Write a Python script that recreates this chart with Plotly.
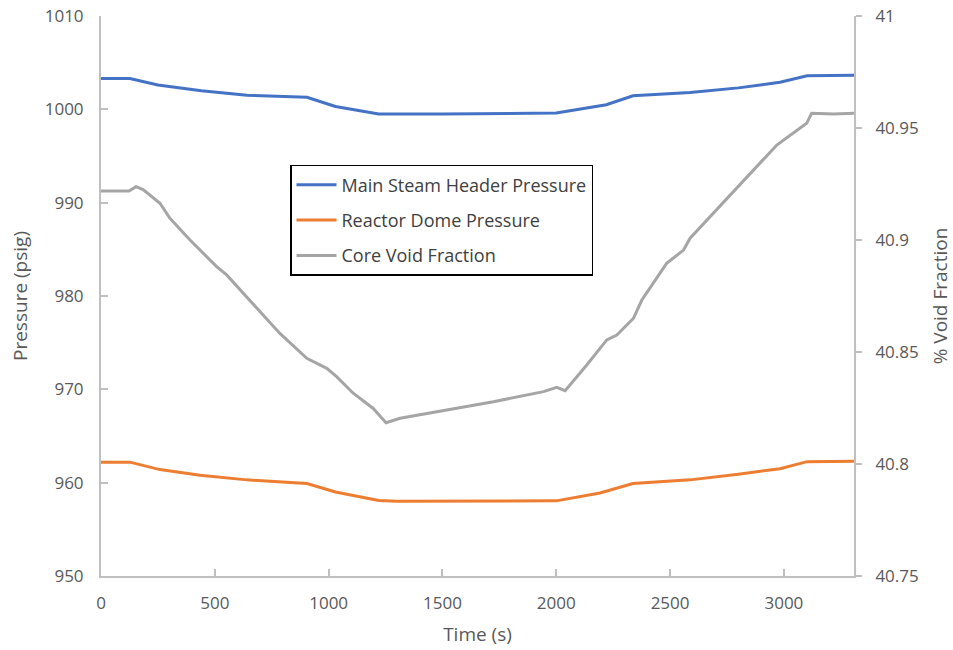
import plotly.graph_objects as go

# Time (s) and values
t_main = [0, 127, 250, 441, 641, 905, 1030, 1220, 1500, 1800, 2000, 2220, 2337, 2588, 2800, 2983, 3102, 3308]
p_main = [1003.3, 1003.3, 1002.6, 1002.0, 1001.5, 1001.3, 1000.3, 999.5, 999.5, 999.55, 999.6, 1000.5, 1001.45, 1001.8, 1002.3, 1002.9, 1003.6, 1003.65]

t_dome = [0, 127, 259, 435, 641, 905, 1030, 1220, 1300, 1600, 1800, 2000, 2192, 2337, 2588, 2800, 2983, 3102, 3308]
p_dome = [962.2, 962.2, 961.4, 960.8, 960.3, 959.9, 959.0, 958.1, 958.0, 958.0, 958.05, 958.05, 958.9, 959.9, 960.3, 960.9, 961.5, 962.25, 962.3]

t_void = [0, 123, 154, 185, 259, 303, 391, 508, 552, 640, 786, 904, 992, 1035, 1108, 1196, 1230, 1252, 1314,
          1519, 1724, 1944, 2002, 2039, 2134, 2222, 2266, 2339, 2376, 2485, 2559, 2588, 2676, 2822, 2969,
          3100, 3122, 3218, 3308]
v_void = [40.9219, 40.9219, 40.9238, 40.9225, 40.9164, 40.9097, 40.9000, 40.8881, 40.8844, 40.8747, 40.8583,
          40.8472, 40.8427, 40.8390, 40.8316, 40.8248, 40.8210, 40.8184, 40.8204,
          40.8241, 40.8278, 40.8323, 40.8342, 40.8327, 40.8442, 40.8554, 40.8576, 40.8650, 40.8732, 40.8896,
          40.8955, 40.9008, 40.9104, 40.9268, 40.9424, 40.9521, 40.9566, 40.9562, 40.9566]

x_ticks = [0, 500, 1000, 1500, 2000, 2500, 3000]
y_ticks = [950, 960, 970, 980, 990, 1000, 1010]
y2_ticks = [40.75, 40.8, 40.85, 40.9, 40.95, 41]
y2_labels = ["40.75", "40.8", "40.85", "40.9", "40.95", "41"]

FONT = "Open Sans"
TXT = "#595959"
AX = "#BFBFBF"

fig = go.Figure()
fig.add_trace(go.Scatter(x=t_main, y=p_main, mode="lines", name="Main Steam Header Pressure",
                         line=dict(color="#4472C4", width=3), legendgroup="a"))
fig.add_trace(go.Scatter(x=t_dome, y=p_dome, mode="lines", name="Reactor Dome Pressure",
                         line=dict(color="#ED7D31", width=3), legendgroup="b"))
fig.add_trace(go.Scatter(x=t_void, y=v_void, mode="lines", name="Core Void Fraction",
                         line=dict(color="#A5A5A5", width=3), yaxis="y2", legendgroup="c"))

fig.update_layout(
    width=953, height=650,
    margin=dict(l=101, r=99, t=16, b=74),
    paper_bgcolor="white", plot_bgcolor="white",
    font=dict(family=FONT, size=17, color=TXT),
    xaxis=dict(range=[0, 3308], tickvals=x_ticks, showgrid=False, zeroline=False,
               showline=True, linecolor=AX, linewidth=2, ticks="inside", ticklen=7,
               tickcolor=AX, tickwidth=1.5, ticklabelstandoff=11,
               title=dict(text="Time (s)", font=dict(size=19, color=TXT), standoff=14),
               automargin=False),
    yaxis=dict(range=[950, 1010], tickvals=y_ticks, showgrid=False, zeroline=False,
               showline=True, linecolor=AX, linewidth=2, ticks="inside", ticklen=7,
               tickcolor=AX, tickwidth=1.5, ticklabelstandoff=12,
               title=dict(text="Pressure (psig)", font=dict(size=19, color=TXT), standoff=12),
               automargin=False),
    yaxis2=dict(range=[40.75, 41], tickvals=y2_ticks, ticktext=y2_labels, overlaying="y", side="right",
                showgrid=False, zeroline=False, showline=True, linecolor=AX, linewidth=2,
                ticks="outside", ticklen=6, tickcolor=AX, tickwidth=1.5, ticklabelstandoff=10,
                title=dict(text="% Void Fraction", font=dict(size=19, color=TXT), standoff=19),
                automargin=False),
    legend=dict(x=0.251, y=0.734, xanchor="left", yanchor="top",
                bgcolor="white", bordercolor="black", borderwidth=1.5,
                font=dict(family=FONT, size=18, color="#404040"),
                tracegroupgap=9, itemwidth=40),
    showlegend=True,
)

fig.write_html("out.html")
